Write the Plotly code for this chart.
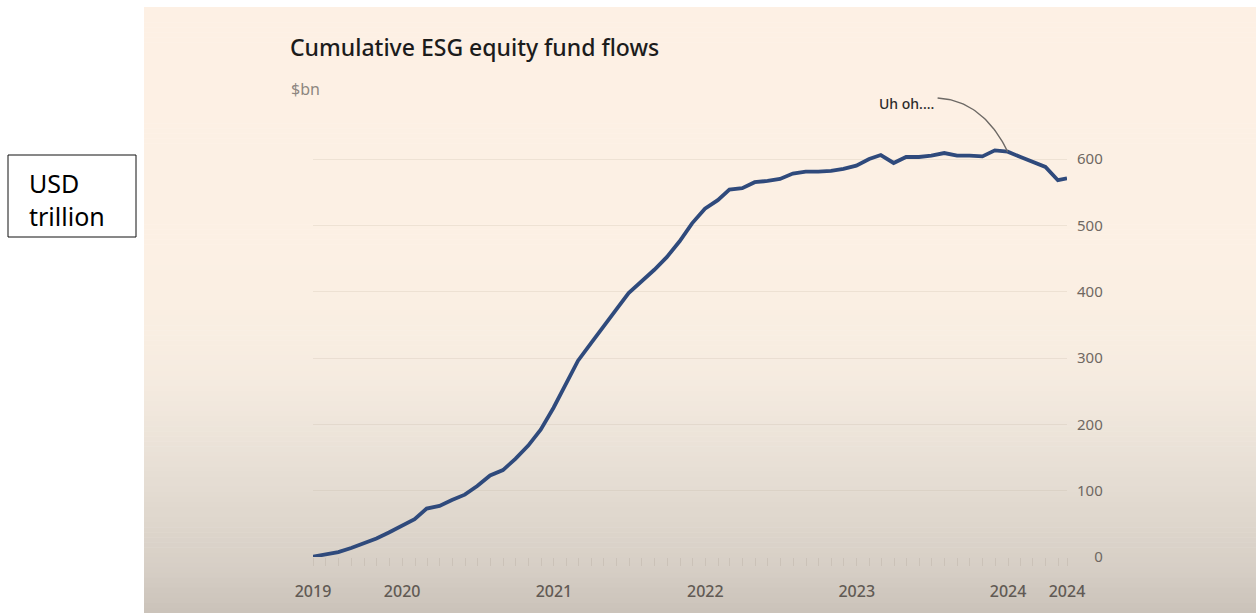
import numpy as np
import pandas as pd
import plotly.graph_objects as go

W, H = 1256, 613

# Month-end dates, last point is the latest weekly reading
dates = list(pd.date_range("2019-06-01", "2024-05-01", freq="MS") - pd.Timedelta(days=1))
dates.append(pd.Timestamp("2024-05-22"))

# Cumulative ESG equity fund flows, $bn
flows = [0.5, 3.5, 7.5, 13.5, 20, 28, 37, 47,
         57, 73, 77, 86, 94, 107, 123, 131, 148, 168, 192, 225,
         262, 296, 322, 348, 373, 398, 415, 433, 452, 476, 503, 525,
         538, 554, 556, 565, 567, 570, 578, 581, 581, 582, 585, 590,
         600, 606, 594, 603, 603, 605, 609, 605, 605, 604, 613, 611,
         603, 596, 588, 568, 571]

year_ticks = [dates[0], pd.Timestamp("2020-01-01"), pd.Timestamp("2021-01-01"),
              pd.Timestamp("2022-01-01"), pd.Timestamp("2023-01-01"),
              pd.Timestamp("2024-01-01"), dates[-1]]
year_labels = ["2019", "2020", "2021", "2022", "2023", "2024", "2024"]

value_ticks = [0, 100, 200, 300, 400, 500, 600]
value_labels = [f"{v:\u2007>3}" for v in value_ticks]

# "Uh oh" callout: curve from the label down to the December 2023 reading
target_i = dates.index(pd.Timestamp("2023-12-31"))
callout_start = (pd.Timestamp("2023-07-15"), 692)
callout_ctrl = (pd.Timestamp("2023-11-01"), 688)
callout_end = (dates[target_i], flows[target_i])


def px_x(p):
    return p / W


def px_y(p):
    return 1 - p / H


def mix(c0, c1, f):
    return tuple(round(a + (b - a) * f) for a, b in zip(c0, c1))


fig = go.Figure()

fig.add_trace(go.Scatter(
    x=dates, y=flows, mode="lines",
    line=dict(color="#2f4a7c", width=3.8),
    hoverinfo="skip", showlegend=False,
))

# quadratic curve for the callout leader
t = np.linspace(0, 1, 40)
ts = np.array([p[0].value for p in (callout_start, callout_ctrl, callout_end)], dtype=float)
vs = np.array([p[1] for p in (callout_start, callout_ctrl, callout_end)], dtype=float)
cx = (1 - t) ** 2 * ts[0] + 2 * (1 - t) * t * ts[1] + t ** 2 * ts[2]
cy = (1 - t) ** 2 * vs[0] + 2 * (1 - t) * t * vs[1] + t ** 2 * vs[2]
fig.add_trace(go.Scatter(
    x=pd.to_datetime(cx.astype("int64")), y=cy, mode="lines",
    line=dict(color="#6e6a66", width=1.4),
    hoverinfo="skip", showlegend=False,
))

shapes = []
# panel background: warm cream fading to greige at the bottom
stops = [(7, (253, 240, 228)), (250, (252, 240, 228)), (330, (249, 238, 226)),
         (380, (245, 235, 224)), (470, (231, 223, 213)), (530, (221, 213, 203)),
         (570, (214, 206, 197)), (613, (202, 194, 185))]
bands = 120
top, bottom = 7, 613
for i in range(bands):
    y0 = top + (bottom - top) * i / bands
    y1 = top + (bottom - top) * (i + 1) / bands
    ym = (y0 + y1) / 2
    for (a, ca), (b, cb) in zip(stops[:-1], stops[1:]):
        if a <= ym <= b:
            col = mix(ca, cb, (ym - a) / (b - a))
            break
    shapes.append(dict(
        type="rect", xref="paper", yref="paper", layer="below",
        x0=px_x(144), x1=1.0, y0=px_y(y1 + 0.5), y1=px_y(y0),
        fillcolor=f"rgb{col}", line=dict(width=0),
    ))

# unit box on the left
shapes.append(dict(
    type="rect", xref="paper", yref="paper",
    x0=px_x(8), x1=px_x(136), y0=px_y(237), y1=px_y(155),
    fillcolor="white", line=dict(color="#111111", width=1),
))

annotations = [
    dict(text="Cumulative ESG equity fund flows", xref="paper", yref="paper",
         x=px_x(288), y=px_y(47), xanchor="left", yanchor="middle", showarrow=False,
         font=dict(family="Noto Sans", size=23, color="#1c1c1c", weight=500)),
    dict(text="$bn", xref="paper", yref="paper",
         x=px_x(289), y=px_y(89), xanchor="left", yanchor="middle", showarrow=False,
         font=dict(family="Noto Sans", size=16, color="#8d8680")),
    dict(text="Uh oh....", xref="x", yref="y",
         x=callout_start[0], y=callout_start[1] - 8, xanchor="right", yanchor="middle",
         xshift=-2, showarrow=False,
         font=dict(family="Noto Sans", size=14, color="#2b2b2b", weight=500)),
    dict(text="USD", xref="paper", yref="paper",
         x=px_x(27), y=px_y(183), xanchor="left", yanchor="middle", showarrow=False,
         font=dict(family="Noto Sans", size=25, color="#000000")),
    dict(text="trillion", xref="paper", yref="paper",
         x=px_x(27), y=px_y(216), xanchor="left", yanchor="middle", showarrow=False,
         font=dict(family="Noto Sans", size=25, color="#000000")),
]

y0_px, ymax = 557, 720
px_per_unit = 398 / 600
ytop_px = y0_px - ymax * px_per_unit

fig.update_layout(
    width=W, height=H, autosize=False,
    margin=dict(l=0, r=0, t=0, b=0),
    paper_bgcolor="white", plot_bgcolor="rgba(0,0,0,0)",
    shapes=shapes, annotations=annotations,
    showlegend=False,
    xaxis=dict(
        type="date", domain=[px_x(313), px_x(1067)],
        range=[dates[0], dates[-1]],
        tickvals=year_ticks, ticktext=year_labels,
        ticks="outside", ticklen=8, tickcolor="#cbc2b8", tickwidth=1,
        ticklabelstandoff=12,
        minor=dict(ticks="outside", dtick="M1", tick0="2019-06-01",
                   ticklen=8, tickcolor="#cbc2b8", tickwidth=1, showgrid=False),
        showgrid=False, zeroline=False, showline=False,
        tickfont=dict(family="Noto Sans", size=16, color="#615a54", weight=500),
        automargin=False, fixedrange=True,
    ),
    yaxis=dict(
        side="right", domain=[px_y(y0_px), px_y(ytop_px)],
        range=[0, ymax],
        tickvals=value_ticks, ticktext=value_labels,
        ticks="", ticklabelstandoff=9,
        showgrid=True, gridcolor="rgba(185,168,150,0.2)", gridwidth=1,
        zeroline=False, showline=False,
        tickfont=dict(family="Noto Sans", size=15, color="#6f6862"),
        automargin=False, fixedrange=True,
    ),
)

fig.write_html("out.html")
